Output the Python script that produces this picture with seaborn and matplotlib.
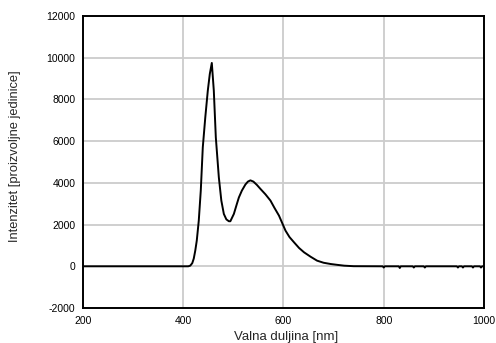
import matplotlib
matplotlib.use("Agg")
import matplotlib.pyplot as plt
import seaborn as sns
import pandas as pd

# Emission spectrum: wavelength [nm] and intensity [arbitrary units]
wavelength = [200, 300, 400, 410, 414, 418, 421, 424, 427, 431, 435, 439, 444,
              449, 453, 457, 461, 465, 471, 476, 481, 486, 491, 494, 501, 507,
              511, 517, 524, 529, 534, 540, 547, 554, 564, 574, 582, 591, 604,
              612, 621, 631, 641, 654, 667, 680, 694, 707, 721, 740, 798, 800,
              802, 830, 832, 834, 858, 860, 862, 880, 882, 884, 946, 948, 950,
              956, 958, 960, 976, 978, 980, 992, 994, 996, 1000]
intensity = [0, 0, 0, 0, 30, 150, 370, 750, 1230, 2190, 3630, 5700, 7140,
             8420, 9220, 9750, 8420, 6180, 4270, 3150, 2510, 2250, 2160, 2160,
             2510, 2990, 3300, 3630, 3920, 4060, 4120, 4060, 3900, 3710, 3450,
             3150, 2800, 2430, 1710, 1400, 1150, 880, 670, 460, 270, 170, 110,
             70, 30, 5, 0, -60, 0, 0, -80, 0, 0, -60, 0, 0, -60, 0, 0, -60, 0,
             0, -60, 0, 0, -60, 0, 0, -60, 0, 0]

x_ticks = [200, 400, 600, 800, 1000]
y_ticks = [-2000, 0, 2000, 4000, 6000, 8000, 10000, 12000]

df = pd.DataFrame({"wavelength": wavelength, "intensity": intensity})

sns.set_style("white")
plt.rcParams["font.family"] = ["Liberation Sans", "DejaVu Sans"]

fig = plt.figure(figsize=(4.96, 3.43), dpi=100)
ax = fig.add_axes([0.1673, 0.102, 0.8085, 0.8514])

sns.lineplot(data=df, x="wavelength", y="intensity", ax=ax,
             color="black", linewidth=1.4, zorder=3)

ax.set_xlim(200, 1000)
ax.set_ylim(-2000, 12000)
ax.set_xticks(x_ticks)
ax.set_yticks(y_ticks)
ax.set_xticklabels([str(v) for v in x_ticks], fontsize=7.5)
ax.set_yticklabels([str(v) for v in y_ticks], fontsize=7.5)

ax.grid(True, color="#cccccc", linewidth=1.3, zorder=0)
ax.set_axisbelow(True)
for s in ax.spines.values():
    s.set_color("black")
    s.set_linewidth(1.4)

ax.tick_params(axis="both", direction="out", length=3, width=1.2,
               colors="black", pad=2.5)

ax.set_xlabel("Valna duljina [nm]", fontsize=9.5)
ax.set_ylabel("Intenzitet [proizvoljne jedinice]", fontsize=9.3)
ax.xaxis.set_label_coords(0.506, -0.078)
ax.yaxis.set_label_coords(-0.155, 0.52)

fig.savefig("out.png", dpi=100, facecolor="white")
